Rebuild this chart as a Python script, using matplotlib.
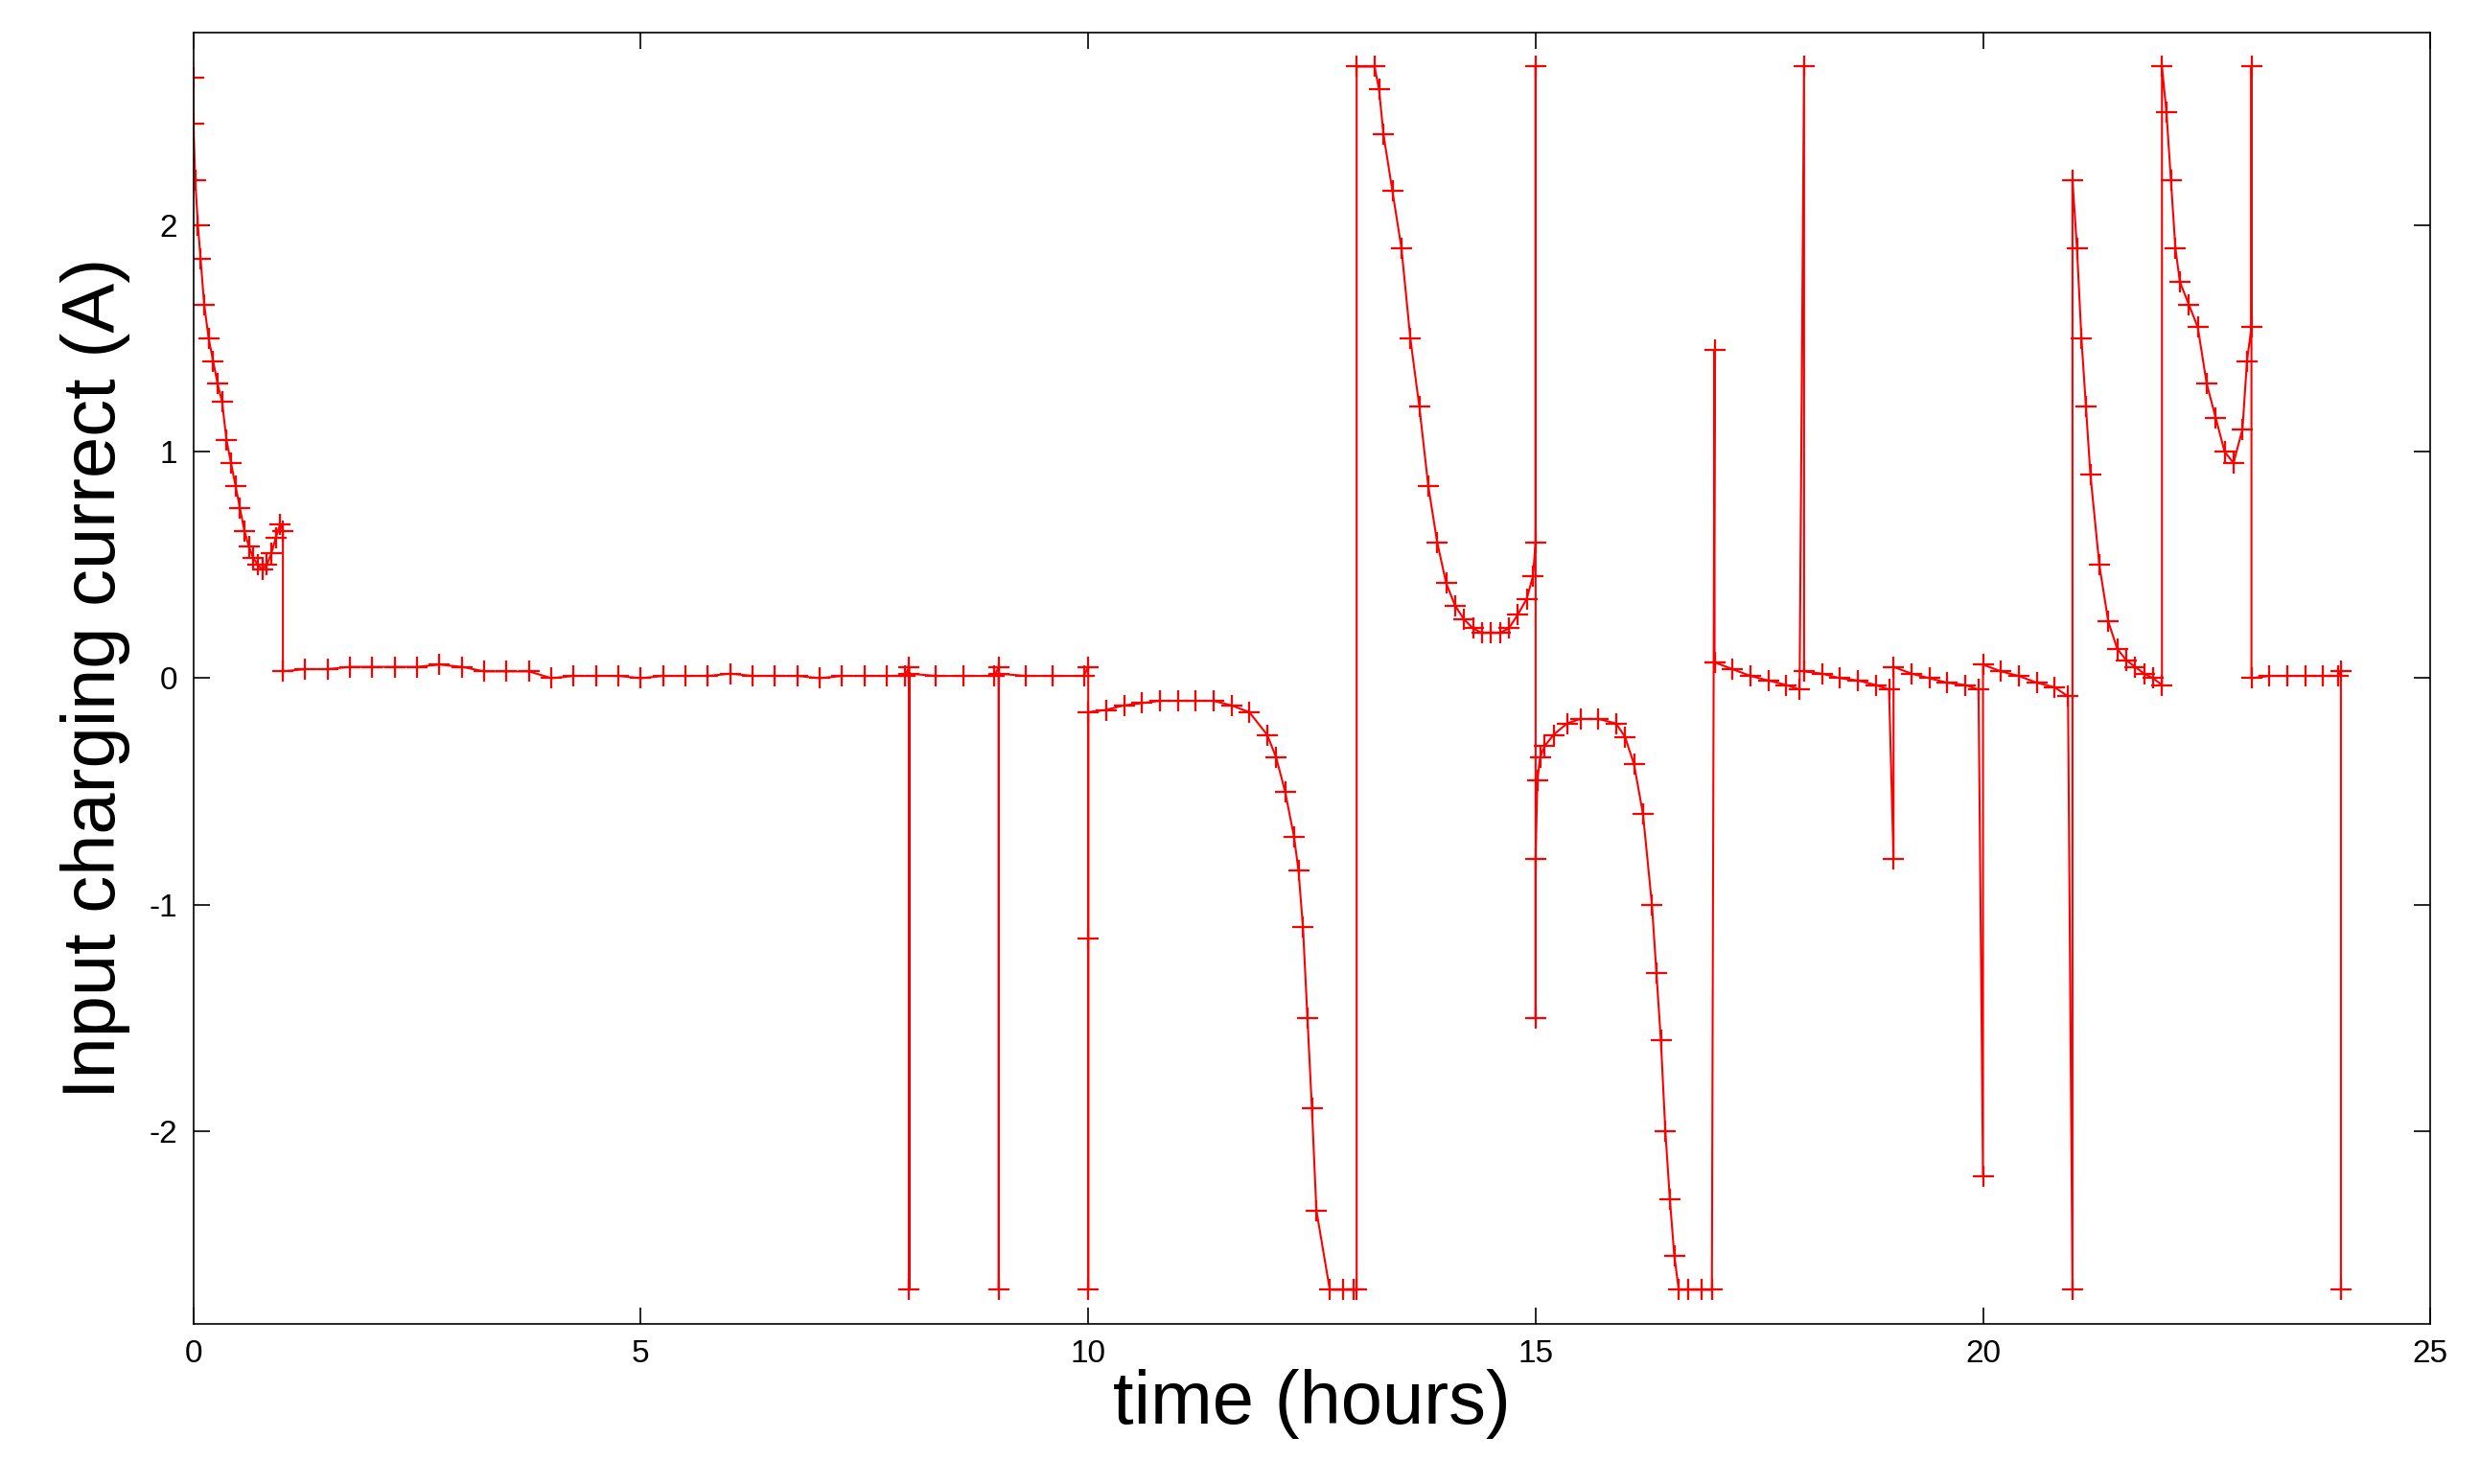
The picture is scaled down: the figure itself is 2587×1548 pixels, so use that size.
import matplotlib
matplotlib.use("Agg")
import matplotlib.pyplot as plt

plt.rcParams['font.family'] = ['Liberation Sans', 'DejaVu Sans']
plt.rcParams['axes.unicode_minus'] = False

time_h = [
 0.0,0.0,0.02,0.05,0.08,0.12,0.17,0.22,0.27,0.32,0.37,0.42,0.47,0.52,0.57,0.62,0.67,0.72,0.77,0.82,0.87,0.92,0.97,1.0,
 1.0,1.25,1.5,1.75,2.0,2.25,2.5,2.75,3.0,3.25,3.5,3.75,4.0,4.25,4.5,4.75,5.0,5.25,5.5,5.75,6.0,6.25,6.5,6.75,7.0,7.25,7.5,7.75,7.95,
 8.0,8.0,8.0,8.3,8.6,8.95,9.0,9.0,9.0,9.3,9.6,9.95,10.0,10.0,10.0,
 10.0,10.2,10.4,10.6,10.8,11.0,11.2,11.4,11.6,11.8,12.0,12.1,12.2,12.3,12.35,12.4,12.45,12.5,12.55,12.7,12.85,12.97,
 13.0,13.0,13.2,13.25,13.3,13.4,13.5,13.6,13.7,13.8,13.9,14.0,14.1,14.2,14.3,14.4,14.5,14.6,14.7,14.8,14.9,14.97,15.0,
 15.0,15.0,15.0,15.02,15.05,15.1,15.2,15.35,15.5,15.7,15.9,16.0,16.1,16.2,16.3,16.35,16.4,16.45,16.5,16.55,16.6,16.7,16.85,16.97,
 17.0,17.0,17.0,17.2,17.4,17.6,17.8,17.95,18.0,18.0,18.2,18.4,18.6,18.8,18.95,19.0,19.0,19.2,19.4,19.6,19.8,19.95,
 20.0,20.0,20.2,20.4,20.6,20.8,20.95,21.0,21.0,21.05,21.1,21.15,21.2,21.3,21.4,21.5,21.6,21.7,21.8,21.9,22.0,
 22.0,22.05,22.1,22.15,22.2,22.3,22.4,22.5,22.6,22.7,22.8,22.9,22.95,23.0,
 23.0,23.0,23.2,23.4,23.6,23.8,23.97,24.0,24.0]
current_a = [
 2.65,2.45,2.2,2.0,1.85,1.65,1.5,1.4,1.3,1.22,1.05,0.95,0.85,0.75,0.65,0.58,0.53,0.5,0.48,0.5,0.55,0.62,0.68,0.65,
 0.03,0.04,0.04,0.05,0.05,0.05,0.05,0.06,0.05,0.03,0.03,0.03,0.0,0.01,0.01,0.01,0.0,0.01,0.01,0.01,0.02,0.01,0.01,0.01,0.0,0.01,0.01,0.01,0.01,
 0.05,-2.7,0.02,0.01,0.01,0.01,0.05,-2.7,0.02,0.01,0.01,0.01,0.05,-2.7,-1.15,
 -0.15,-0.14,-0.12,-0.11,-0.1,-0.1,-0.1,-0.1,-0.12,-0.15,-0.25,-0.35,-0.5,-0.7,-0.85,-1.1,-1.5,-1.9,-2.35,-2.7,-2.7,-2.7,
 -2.7,2.7,2.7,2.6,2.4,2.15,1.9,1.5,1.2,0.85,0.6,0.42,0.32,0.26,0.22,0.2,0.2,0.2,0.22,0.28,0.35,0.45,0.6,
 2.7,-1.5,-0.8,-0.45,-0.35,-0.3,-0.25,-0.2,-0.18,-0.18,-0.2,-0.26,-0.38,-0.6,-1.0,-1.3,-1.6,-2.0,-2.3,-2.55,-2.7,-2.7,-2.7,-2.7,
 1.45,0.07,0.07,0.04,0.01,-0.01,-0.03,-0.05,2.7,0.03,0.02,0.0,-0.01,-0.03,-0.05,-0.8,0.05,0.02,0.0,-0.02,-0.03,-0.05,
 -2.2,0.06,0.03,0.01,-0.02,-0.04,-0.08,-2.7,2.2,1.9,1.5,1.2,0.9,0.5,0.25,0.13,0.08,0.05,0.02,0.0,-0.03,
 2.7,2.5,2.2,1.9,1.75,1.65,1.55,1.3,1.15,1.0,0.95,1.1,1.4,1.55,
 2.7,0.0,0.01,0.01,0.01,0.01,0.01,0.03,-2.7]

fig = plt.figure(figsize=(25.87, 15.48), dpi=100)
ax = fig.add_axes([0.078, 0.108, 0.902, 0.87])
ax.plot(time_h, current_a, color='red', lw=1.5, marker='+', ms=16, mew=1.6)
ax.set_xlim(0, 25)
ax.set_ylim(-2.85, 2.85)
ax.set_xticks([0, 5, 10, 15, 20, 25])
ax.set_yticks([-2, -1, 0, 1, 2])
ax.tick_params(direction='in', length=12, width=1.2, top=True, right=True, labelsize=24, pad=12)
for s in ax.spines.values():
    s.set_linewidth(1.2)
ax.set_xlabel('time (hours)', fontsize=56, labelpad=0)
ax.set_ylabel('Input charging currect (A)', fontsize=56, labelpad=14)
fig.savefig('out.png', dpi=100)
